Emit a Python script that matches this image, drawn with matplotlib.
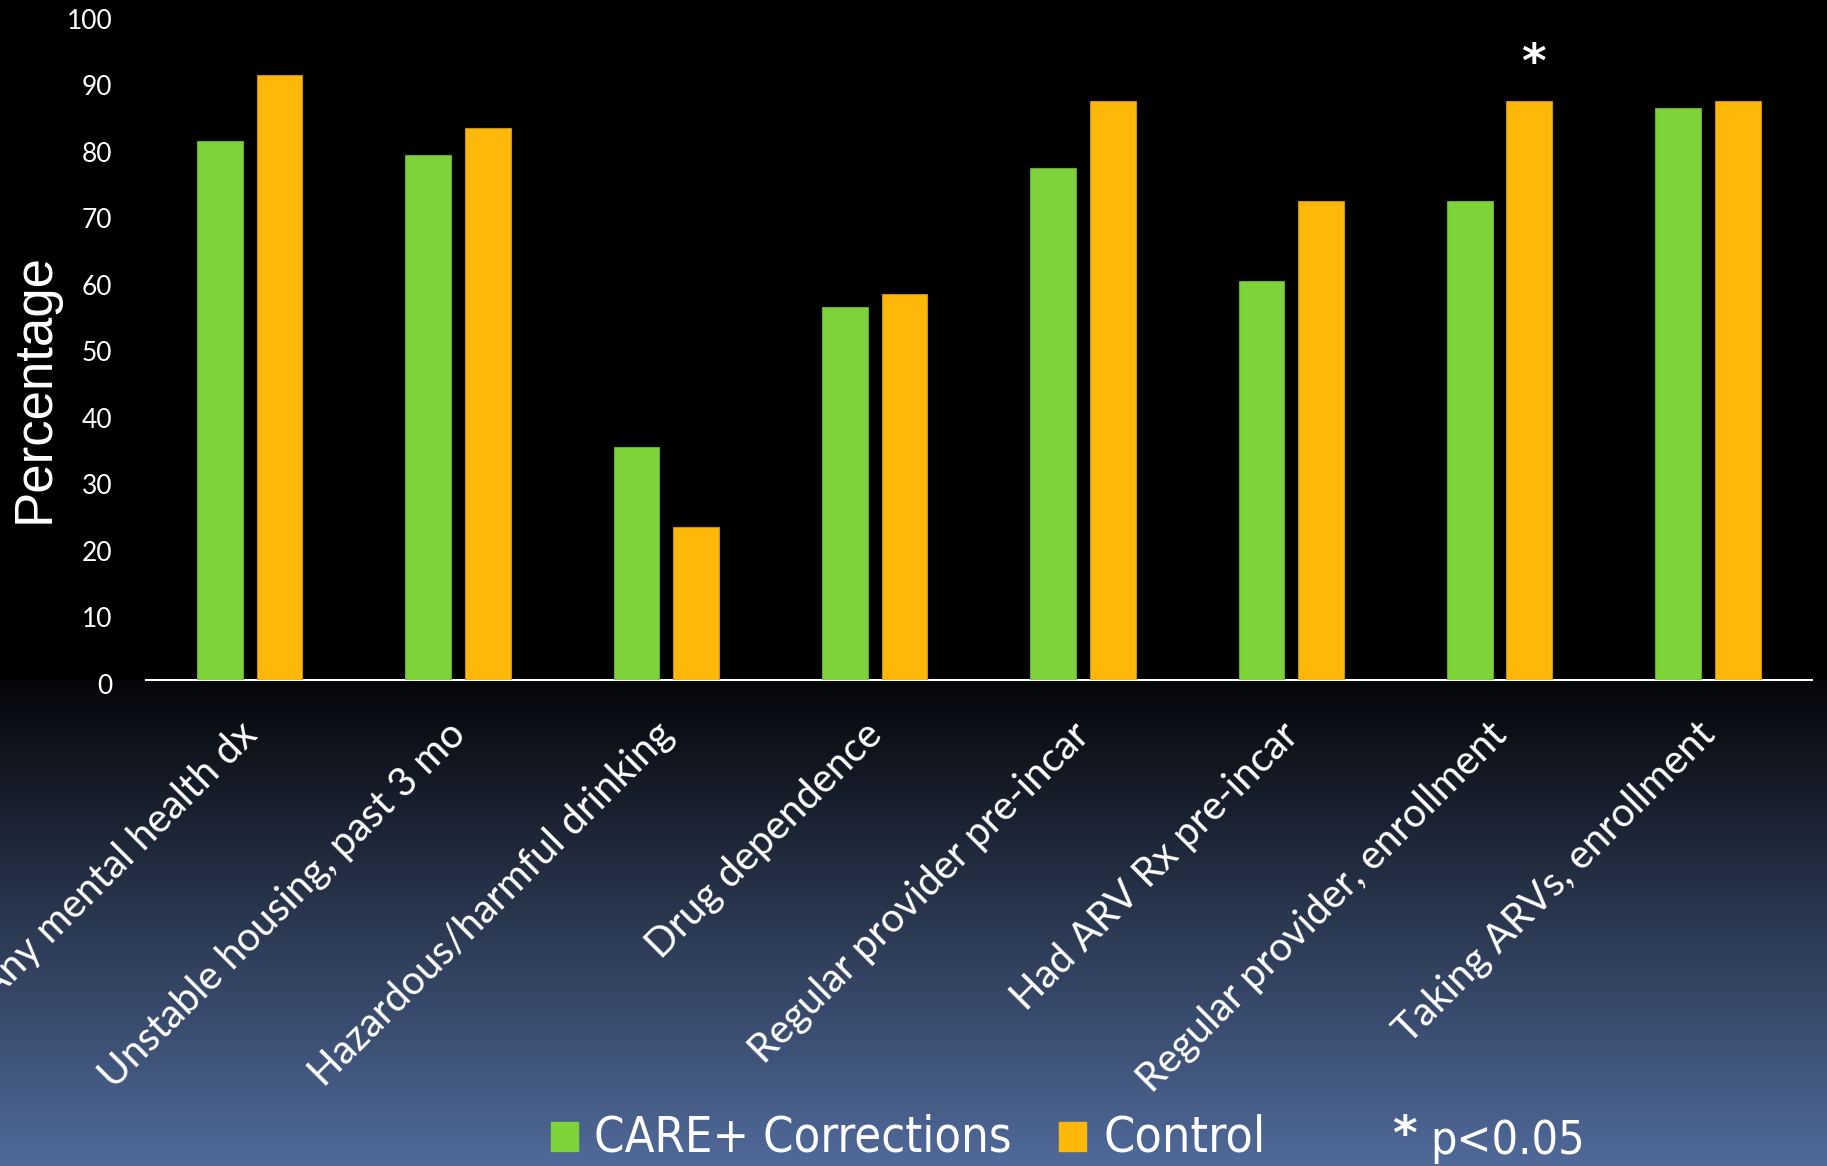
import matplotlib
matplotlib.use("Agg")
import matplotlib.pyplot as plt
import matplotlib.transforms as mtransforms
import numpy as np

categories = ["Any mental health dx", "Unstable housing, past 3 mo",
              "Hazardous/harmful drinking", "Drug dependence",
              "Regular provider pre-incar", "Had ARV Rx pre-incar",
              "Regular provider, enrollment", "Taking ARVs, enrollment"]
care_values = [81, 79, 35, 56, 77, 60, 72, 86]
control_values = [91, 83, 23, 58, 87, 72, 87, 87]
yticks = [0, 10, 20, 30, 40, 50, 60, 70, 80, 90, 100]
series_names = ["CARE+ Corrections", "Control"]
significant_index = 6

GREEN = "#7ED23A"
ORANGE = "#FEB80A"

W, H, DPI = 1827, 1166, 100
fig = plt.figure(figsize=(W / DPI, H / DPI), dpi=DPI)

# background gradient
bg = fig.add_axes([0, 0, 1, 1], zorder=-10)
bg.set_axis_off()
ys = np.arange(H)
top_c = np.array([0x05, 0x06, 0x08]) / 255
bot_c = np.array([0x50, 0x6A, 0x9A]) / 255
start = 680
frac = np.clip((ys - start) / (H - start), 0, 1)
cols = top_c[None, :] * (1 - frac[:, None]) + bot_c[None, :] * frac[:, None]
cols[ys < start] = 0
img = np.repeat(cols[:, None, :], 4, axis=1)
bg.imshow(img, aspect="auto", extent=[0, 1, 0, 1], origin="upper")
bg.set_xlim(0, 1)
bg.set_ylim(0, 1)

ax = fig.add_axes([145.6 / W, 1 - 679.5 / H, (1812 - 145.6) / W, (679.5 - 15) / H])
ax.set_facecolor("black")
x = np.arange(len(categories))
bw = 0.22
off = 0.143
ax.bar(x - off, care_values, bw, color=GREEN, edgecolor="#6aa83a", linewidth=0.8, zorder=3)
ax.bar(x + off, control_values, bw, color=ORANGE, edgecolor="#c99010", linewidth=0.8, zorder=3)
ax.set_xlim(-0.5, len(categories) - 0.5)
ax.set_ylim(0, 100)
for s in ["top", "left", "right"]:
    ax.spines[s].set_visible(False)
ax.spines["bottom"].set_color("white")
ax.spines["bottom"].set_linewidth(1.5)
ax.set_yticks(yticks)
ax.set_yticklabels([str(v) for v in yticks], family="Lato", fontsize=19, color="white")
ax.tick_params(axis="y", length=0, pad=24)
yshift = mtransforms.ScaledTranslation(0, -4 / DPI, fig.dpi_scale_trans)
for lab in ax.get_yticklabels():
    lab.set_transform(lab.get_transform() + yshift)
ax.set_xticks(x)
ax.set_xticklabels(categories, rotation=45, ha="right", va="top",
                   rotation_mode="anchor", family="Lato", fontsize=29, color="white")
ax.tick_params(axis="x", length=0, pad=26)
shift = mtransforms.ScaledTranslation(-12 / DPI, 0, fig.dpi_scale_trans)
for lab in ax.get_xticklabels():
    lab.set_transform(lab.get_transform() + shift)

fig.text(35 / W, 1 - 388 / H, "Percentage", rotation=90, ha="center", va="center",
         family="Liberation Sans", fontsize=38, color="white")

# significance star
ax.text(x[significant_index] + off + 0.02, control_values[significant_index] + 5.5, "*",
        ha="center", va="center", color="white", fontsize=34, fontweight="bold",
        family="DejaVu Sans")

# legend (manual)
ly = 1 - 1137 / H
fig.patches.append(plt.Rectangle((551 / W, 1 - 1151 / H), 27 / W, 29 / H,
                                 transform=fig.transFigure, color=GREEN, figure=fig))
fig.text(594 / W, ly, series_names[0], ha="left", va="center", color="white",
         fontsize=35, family="DejaVu Sans", fontstretch="condensed")
fig.patches.append(plt.Rectangle((1059 / W, 1 - 1151 / H), 27 / W, 29 / H,
                                 transform=fig.transFigure, color=ORANGE, figure=fig))
fig.text(1104 / W, ly, series_names[1], ha="left", va="center", color="white",
         fontsize=36, family="DejaVu Sans", fontstretch="condensed")
fig.text(1404 / W, 1 - 1136 / H, "*", ha="center", va="center", color="white",
         fontsize=34, fontweight="bold", family="DejaVu Sans")
fig.text(1430 / W, 1 - 1142 / H, "p<0.05", ha="left", va="center", color="white",
         fontsize=33.5, family="DejaVu Sans", fontstretch="condensed")

fig.savefig("out.png", dpi=DPI)
